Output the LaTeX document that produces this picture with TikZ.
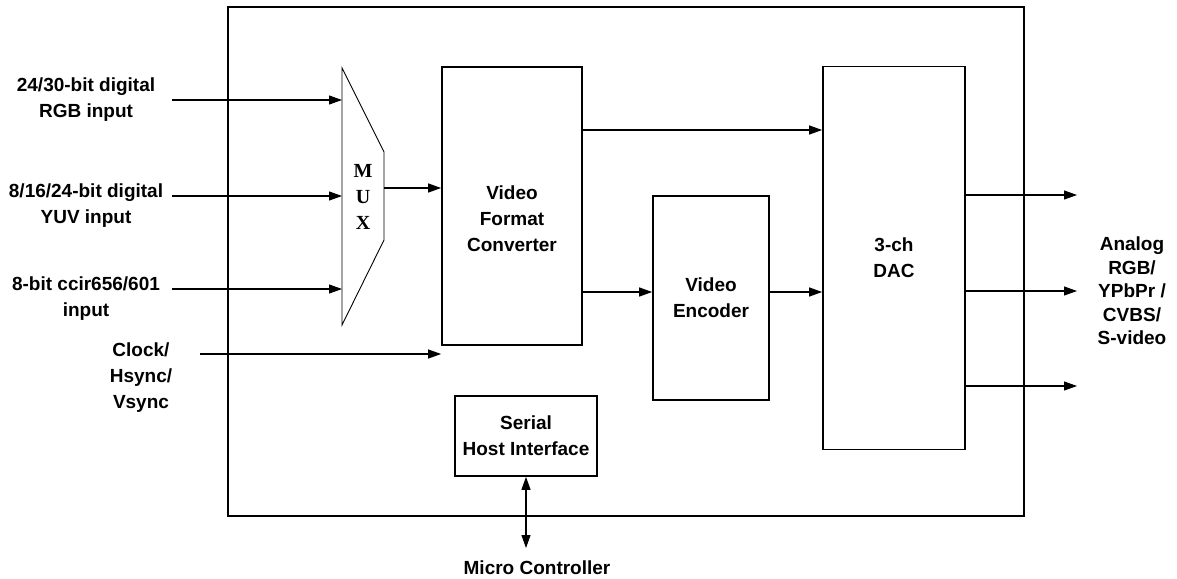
\documentclass[tikz,border=0pt]{standalone}
\usepackage{fontspec}
\setmainfont{Liberation Sans}
\newfontfamily\muxfont{Liberation Serif}
\usetikzlibrary{arrows.meta,positioning}

\tikzset{
  block/.style={draw, line width=1.7pt, inner sep=0pt, align=center},
  sig/.style={line width=1.1pt, -{Triangle[length=13pt,width=9pt]}},
  lbl/.style={align=center, inner sep=0pt},
}

\begin{document}
\begin{tikzpicture}[x=1pt,y=-1pt,font=\fontsize{19}{26}\selectfont\bfseries]
        \useasboundingbox (0,0) rectangle (1177,578);
        %% Chip outline
        \draw[line width=1.7pt] (228,7) rectangle (1024,516);
        %% Mux
        \coordinate (muxtl) at (342,68);
        \coordinate (muxtr) at (384,152);
        \coordinate (muxbr) at (384,240);
        \coordinate (muxbl) at (342,325);
        \draw[line width=0.9pt] (muxtl) -- (muxtr) -- (muxbr) -- (muxbl) -- cycle;
        \node[lbl, font=\fontsize{20}{26}\selectfont\muxfont\bfseries] (mux) at (363,197) {M\\U\\X};
        %% Blocks
        \node[block, minimum width=140pt, minimum height=278pt] (vfc) at (512,206) {};
        \node[lbl] (vfctxt) at ([yshift=-13pt]vfc.center) {Video\\Format\\Converter};
        \node[block, minimum width=116pt, minimum height=204pt] (enc) at (711,298) {Video\\Encoder};
        \node[block, minimum width=142pt, minimum height=383pt] (dac) at (894,258) {3-ch\\DAC};
        \node[block, minimum width=142pt, minimum height=80pt] (shi) at (526,436) {Serial\\Host Interface};
        %% Labels
        \node[lbl] (rgb) at (86,100) {24/30-bit digital\\RGB input};
        \node[lbl] (yuv) at (86,206) {8/16/24-bit digital\\YUV input};
        \node[lbl] (ccir) at (86,299) {8-bit ccir656/601\\input};
        \node[lbl] (sync) at (141,378) {Clock/\\Hsync/\\Vsync};
        \node[lbl, font=\fontsize{19}{23.5}\selectfont\bfseries] (analog) at (1132,291) {Analog\\RGB/\\YPbPr /\\CVBS/\\S-video};
        \node[lbl] (mcu) at (537,568) {Micro Controller};
        %% Inputs
        \coordinate (rgbin) at (172,100);
        \coordinate (yuvin) at (172,196);
        \coordinate (ccirin) at (172,289);
        \coordinate (syncin) at (200,354);
        \foreach \src in {rgbin,yuvin,ccirin}
            \draw[sig] (\src) -- (\src -| muxtl);
        \draw[sig] (syncin) -- (syncin -| vfc.west);
        \draw[sig] (muxtr |- 0,188) -- (vfc.west |- 0,188);
        %% Internal paths
        \draw[sig] (vfc.east |- 0,130) -- (dac.west |- 0,130);
        \draw[sig] (vfc.east |- 0,292) -- (enc.west |- 0,292);
        \draw[sig] (enc.east |- 0,292) -- (dac.west |- 0,292);
        %% Outputs
        \foreach \y [count=\i] in {195,291,386} {
            \coordinate (out\i) at (1077,\y);
            \draw[sig] (dac.east |- out\i) -- (out\i);
        }
        %% Host port
        \coordinate (mcport) at (526,548);
        \draw[line width=1.1pt, {Triangle[length=13pt,width=9pt]}-{Triangle[length=13pt,width=9pt]}] (shi.south) -- (mcport);
    \end{tikzpicture}
\end{document}
